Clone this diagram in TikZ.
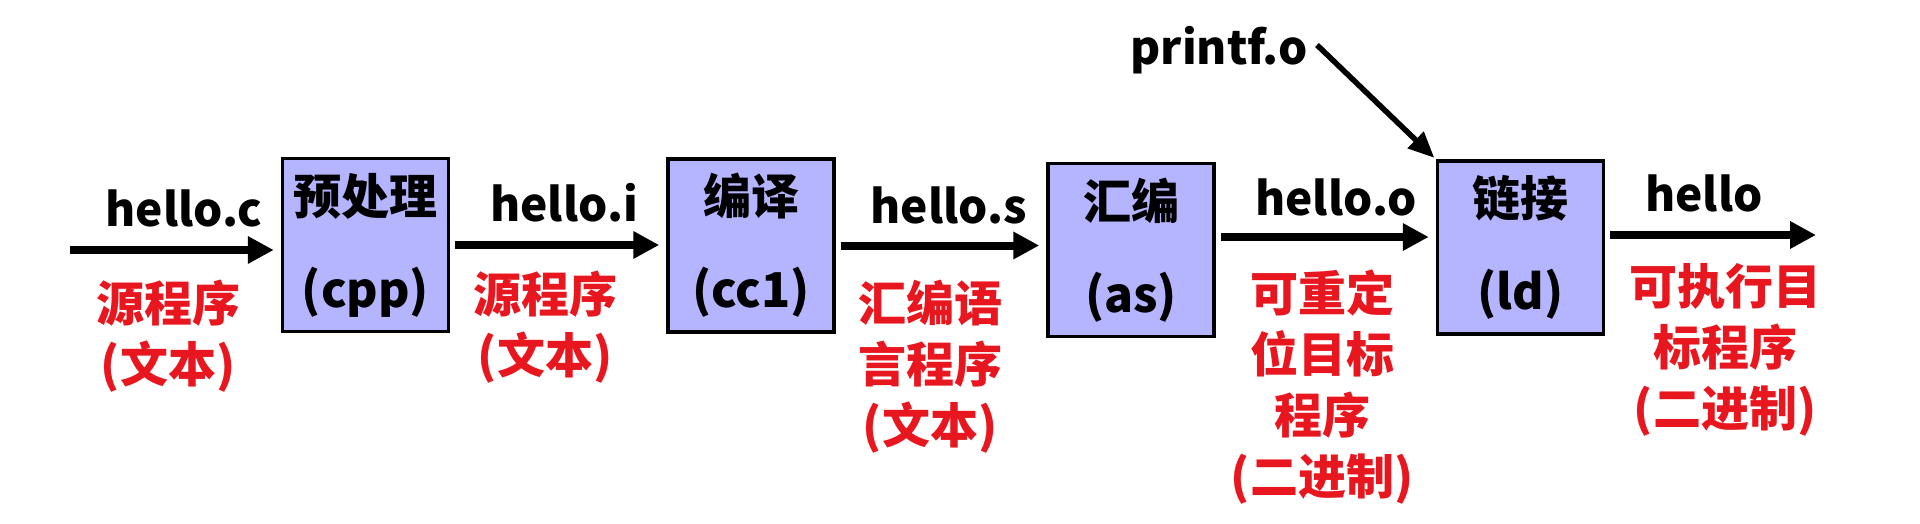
\documentclass[tikz,border=0pt]{standalone}
\usepackage{fontspec}
\setmainfont{Noto Sans CJK SC}
\usetikzlibrary{arrows.meta}
\definecolor{boxfill}{RGB}{180,180,255}
\definecolor{redtxt}{RGB}{232,22,30}
\begin{document}
\begin{tikzpicture}[x=1pt,y=-1pt,
  box/.style={draw=black, line width=3.5pt, fill=boxfill, minimum width=166pt, minimum height=173pt, inner sep=0pt, align=center, font=\bfseries\fontsize{48}{93}\selectfont},
  lbl/.style={font=\bfseries\fontsize{46}{55}\selectfont, inner sep=0pt},
  note/.style={text=redtxt, align=center, inner sep=0pt, font=\bfseries\fontsize{48}{61}\selectfont},
  arr/.style={line width=8pt, -{Triangle[length=26pt,width=26pt]}, shorten >=7pt, shorten <=5pt},
  arrthin/.style={line width=5.5pt, -{Triangle[length=26pt,width=22pt]}, shorten >=2pt}]
\fill[white] (0,0) rectangle (1920,524);
\useasboundingbox (0,0) rectangle (1920,524);
% boxes
\node[box] (b1) at (365.5,245) {预处理\\(cpp)};
\node[box] (b2) at (751,245.5) {编译\\(cc1)};
\node[box] (b3) at (1131,250) {汇编\\(as)};
\node[box] (b4) at (1520.5,247.5) {链接\\(ld)};
% file labels
\node[lbl] (lc) at (184,208) {hello.c};
\node[lbl] (li) at (564,203) {hello.i};
\node[lbl] (ls) at (949,205) {hello.s};
\node[lbl] (lo) at (1336,197) {hello.o};
\node[lbl] (lh) at (1704,193) {hello};
\node[lbl] (lp) at (1219,50) {printf.o};
% red notes
\node[note] (n1) at (168,336) {源程序\\(文本)};
\node[note] (n2) at (545,327.5) {源程序\\(文本)};
\node[note] (n3) at (930,367) {汇编语\\言程序\\(文本)};
\node[note] (n4) at (1322,387) {可重定\\位目标\\程序\\(二进制)};
\node[note] (n5) at (1725,350) {可执行目\\标程序\\(二进制)};
% arrows
\coordinate (s0) at (70,250);
\coordinate (y4) at (0,237);
\coordinate (y5) at (0,235);
\coordinate (e5) at (1816,235);
\coordinate (ps) at (1317,45);
\draw[arr, shorten <=0pt] (s0) -- (s0 -| b1.west);
\draw[arr] (b1.east) -- (b1.east -| b2.west);
\draw[arr] (b2.east) -- (b2.east -| b3.west);
\draw[arr] (b3.east |- y4) -- (b4.west |- y4);
\draw[arr, shorten >=0pt] (b4.east |- y5) -- (e5);
\draw[arrthin] (ps) -- (b4.north west);
\end{tikzpicture}
\end{document}
